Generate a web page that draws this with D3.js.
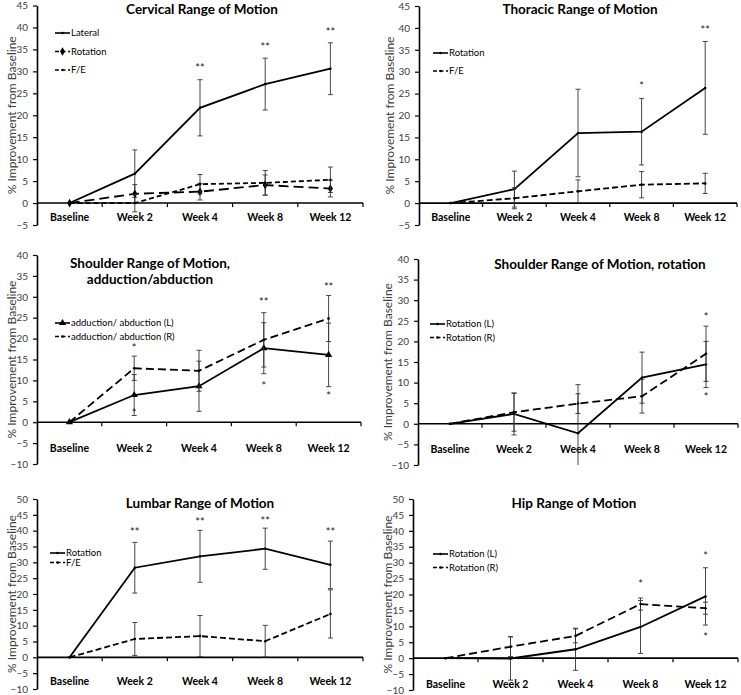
<!DOCTYPE html>
<html>
<head>
<meta charset="utf-8">
<script src="https://cdnjs.cloudflare.com/ajax/libs/d3/7.8.5/d3.min.js"></script>
<style>
	body { margin: 0; background: #fff; }
	svg { display: block; font-family: Lato, "Open Sans", sans-serif; }
</style>
</head>
<body>
<svg id="chart" width="741" height="695"></svg>
<script>
	var categories = ['Baseline', 'Week 2', 'Week 4', 'Week 8', 'Week 12'];

	// Cervical
	var cervLateral = [0, 6.7, 21.7, 27.1, 30.6],
		cervLateralErr = [0, 5.4, 6.4, 5.9, 5.9],
		cervRotation = [0, 2.1, 2.6, 4.1, 3.3],
		cervRotationErr = [0, 2.1, 1.9, 2.3, 1.9],
		cervFE = [0, 0, 4.3, 4.6, 5.3],
		cervFEErr = [0, 2.0, 2.2, 2.8, 2.9],
		cervStars = ['', '', '**', '**', '**'],
		cervStarsAt = [null, null, 31.0, 35.9, 39.3];

	// Thoracic
	var thorRotation = [0, 3.2, 16.0, 16.3, 26.3],
		thorRotationErr = [0, 4.1, 10.0, 7.6, 10.6],
		thorFE = [0, 1.1, 2.7, 4.2, 4.5],
		thorFEErr = [0, 2.4, 2.6, 3.0, 2.3],
		thorStars = ['', '', '', '*', '**'],
		thorStarsAt = [null, null, null, 27.1, 39.8];

	// Shoulder adduction / abduction
	var shAbdL = [0, 6.5, 8.6, 17.7, 16.1],
		shAbdLErr = [0, 4.9, 6.0, 6.1, 7.6],
		shAbdR = [0, 12.9, 12.3, 19.7, 24.8],
		shAbdRErr = [0, 2.9, 4.9, 6.5, 5.5],
		shAbdStarsR = ['', '*', '', '**', '**'],
		shAbdStarsRAt = [null, 18.2, null, 29.1, 32.6],
		shAbdStarsL = ['', '*', '', '*', '*'],
		shAbdStarsLAt = [null, 2.5, null, 8.9, 6.6];

	// Shoulder rotation
	var shRotL = [0, 2.4, -2.3, 11.2, 14.4],
		shRotLErr = [0, 5.1, 11.8, 6.2, 5.6],
		shRotR = [0, 2.8, 4.9, 6.7, 17.0],
		shRotRErr = [0, 4.6, 2.4, 4.1, 6.7],
		shRotStarsR = ['', '', '', '', '*'],
		shRotStarsRAt = [null, null, null, null, 26.3],
		shRotStarsL = ['', '', '', '', '*'],
		shRotStarsLAt = [null, null, null, null, 6.8];

	// Lumbar
	var lumRotation = [0, 28.3, 31.9, 34.3, 29.2],
		lumRotationErr = [0, 8.0, 8.2, 6.5, 7.5],
		lumFE = [0, 5.8, 6.7, 5.1, 13.7],
		lumFEErr = [0, 5.2, 6.5, 5.0, 7.6],
		lumStars = ['', '**', '**', '**', '**'],
		lumStarsAt = [null, 39.9, 43.2, 43.6, 39.9];

	// Hip
	var hipL = [0, -0.1, 2.8, 9.8, 19.4],
		hipLErr = [0, 6.8, 6.6, 8.3, 9.0],
		hipR = [0, 3.6, 7.0, 17.0, 15.7],
		hipRErr = [0, 3.1, 2.2, 1.9, 1.9],
		hipStarsR = ['', '', '', '*', '*'],
		hipStarsRAt = [null, null, null, 23.8, 32.6],
		hipStarsL = ['', '', '', '', '*'],
		hipStarsLAt = [null, null, null, null, 7.0];

	var yTicks45 = [-5, 0, 5, 10, 15, 20, 25, 30, 35, 40, 45],
		yTicks40 = [-10, -5, 0, 5, 10, 15, 20, 25, 30, 35, 40],
		yTicks50 = [-10, -5, 0, 5, 10, 15, 20, 25, 30, 35, 40, 45, 50];

	var panels = [
		{
			title: ['Cervical Range of Motion'], titleX: 202, titleY: 14,
			x0: 37, x1: 363, yTop: 5.5, yBot: 225, ticks: yTicks45, catY: 221, labelX: 12,
			legend: {x: 55, y: 33, dy: 18.5},
			series: [
				{name: 'Lateral', v: cervLateral, e: cervLateralErr, dash: null, marker: 'small'},
				{name: 'Rotation', v: cervRotation, e: cervRotationErr, dash: '10,5', marker: 'diamond'},
				{name: 'F/E', v: cervFE, e: cervFEErr, dash: '5,3', marker: 'small'}
			],
			stars: [[cervStars, cervStarsAt]]
		},
		{
			title: ['Thoracic Range of Motion'], titleX: 580, titleY: 14,
			x0: 419, x1: 737, yTop: 6, yBot: 225, ticks: yTicks45, catY: 221, labelX: 390,
			legend: {x: 433, y: 53, dy: 18},
			series: [
				{name: 'Rotation', v: thorRotation, e: thorRotationErr, dash: null, marker: 'small'},
				{name: 'F/E', v: thorFE, e: thorFEErr, dash: '6,3', marker: 'small'}
			],
			stars: [[thorStars, thorStarsAt]]
		},
		{
			title: ['Shoulder Range of Motion,', 'adduction/abduction'], titleX: 150, titleY: 268,
			x0: 37, x1: 361, yTop: 255, yBot: 464, ticks: yTicks40, catY: 452, labelX: 12,
			legend: {x: 55, y: 323, dy: 13.5},
			series: [
				{name: 'adduction/ abduction (L)', v: shAbdL, e: shAbdLErr, dash: null, marker: 'triangle'},
				{name: 'adduction/ abduction (R)', v: shAbdR, e: shAbdRErr, dash: '8,4', marker: 'small'}
			],
			stars: [[shAbdStarsR, shAbdStarsRAt], [shAbdStarsL, shAbdStarsLAt]]
		},
		{
			title: ['Shoulder Range of Motion, rotation'], titleX: 600, titleY: 269,
			x0: 418, x1: 738, yTop: 259, yBot: 465, ticks: yTicks40, catY: 453, labelX: 388,
			legend: {x: 430, y: 324, dy: 13.5},
			series: [
				{name: 'Rotation (L)', v: shRotL, e: shRotLErr, dash: null, marker: 'small'},
				{name: 'Rotation (R)', v: shRotR, e: shRotRErr, dash: '8,4', marker: 'small'}
			],
			stars: [[shRotStarsR, shRotStarsRAt], [shRotStarsL, shRotStarsLAt]]
		},
		{
			title: ['Lumbar Range of Motion'], titleX: 200, titleY: 508,
			x0: 37, x1: 363, yTop: 499, yBot: 689, ticks: yTicks50, catY: 685, labelX: 12,
			legend: {x: 50, y: 553, dy: 9.5},
			series: [
				{name: 'Rotation', v: lumRotation, e: lumRotationErr, dash: null, marker: 'small'},
				{name: 'F/E', v: lumFE, e: lumFEErr, dash: '6,3', marker: 'small'}
			],
			stars: [[lumStars, lumStarsAt]]
		},
		{
			title: ['Hip Range of Motion'], titleX: 574, titleY: 508,
			x0: 413, x1: 738, yTop: 499, yBot: 690, ticks: yTicks50, catY: 688, labelX: 388,
			legend: {x: 433, y: 554, dy: 13.5},
			series: [
				{name: 'Rotation (L)', v: hipL, e: hipLErr, dash: null, marker: 'small'},
				{name: 'Rotation (R)', v: hipR, e: hipRErr, dash: '8,4', marker: 'small'}
			],
			stars: [[hipStarsR, hipStarsRAt], [hipStarsL, hipStarsLAt]]
		}
	];

	var svg = d3.select('#chart');

	var markerPath = function (type) {
		if (type === 'diamond') {
			return d3.symbol().type(d3.symbolDiamond).size(22)();
		}
		if (type === 'triangle') {
			return d3.symbol().type(d3.symbolTriangle).size(22)();
		}
		return d3.symbol().type(d3.symbolCircle).size(5)();
	};

	panels.forEach(function (p) {
		var g = svg.append('g');
		var ticks = p.ticks,
			yMin = d3.min(ticks),
			yMax = d3.max(ticks);

		var x = d3.scaleBand().domain(categories).range([p.x0, p.x1]).padding(0),
			y = d3.scaleLinear().domain([yMin, yMax]).range([p.yBot, p.yTop]),
			cx = function (c) {return x(c) + x.bandwidth() / 2;},
			clampY = function (v) {return y(Math.max(yMin, Math.min(yMax, v)));};

		// y axis
		var yAxis = g.append('g')
			.attr('transform', 'translate(' + p.x0 + ',0)')
			.call(d3.axisLeft(y).tickValues(ticks).tickSize(4).tickSizeOuter(0).tickPadding(5));
		yAxis.select('.domain').attr('stroke', '#000').attr('stroke-width', 1.6);
		yAxis.selectAll('.tick line').attr('stroke', '#000').attr('stroke-width', 1.2);
		yAxis.selectAll('.tick text')
			.attr('fill', '#404040')
			.style('font-size', '10px')
			.style('font-family', 'Lato, sans-serif');

		// x axis at zero
		var xAxis = g.append('g')
			.attr('transform', 'translate(0,' + y(0) + ')');
		xAxis.append('line')
			.attr('x1', p.x0).attr('x2', p.x1)
			.attr('stroke', '#000').attr('stroke-width', 1.6);
		xAxis.selectAll('.xt')
			.data(categories).enter()
			.append('line')
				.attr('x1', function (c) {return x(c) + x.bandwidth();})
				.attr('x2', function (c) {return x(c) + x.bandwidth();})
				.attr('y1', 0).attr('y2', 4)
				.attr('stroke', '#000').attr('stroke-width', 1.2);

		g.selectAll('.cat')
			.data(categories).enter()
			.append('text')
				.attr('x', cx)
				.attr('y', p.catY)
				.attr('text-anchor', 'middle')
				.style('font-size', '10.5px')
				.style('font-weight', 'bold')
				.attr('fill', '#000')
				.text(function (c) {return c;});

		// y label
		g.append('text')
			.attr('transform', 'translate(' + p.labelX + ',' + ((p.yTop + p.yBot) / 2) + ') rotate(-90)')
			.attr('text-anchor', 'middle')
			.attr('dy', '0.35em')
			.style('font-size', '12px')
			.attr('fill', '#404040')
			.text('% Improvement from Baseline');

		// title
		g.selectAll('.title')
			.data(p.title).enter()
			.append('text')
				.attr('x', p.titleX)
				.attr('y', function (d, i) {return p.titleY + i * 15.5;})
				.attr('text-anchor', 'middle')
				.style('font-size', '13.5px')
				.style('font-weight', 'bold')
				.attr('fill', '#000')
				.text(function (d) {return d;});

		// series
		p.series.forEach(function (s) {
			var pts = categories.map(function (c, i) {
				return {c: c, v: s.v[i], e: s.e[i]};
			});

			var bars = g.append('g').selectAll('g')
				.data(pts.filter(function (d) {return d.e > 0;})).enter()
				.append('g')
					.attr('stroke', '#333')
					.attr('stroke-width', 0.9);
			bars.append('line')
				.attr('x1', function (d) {return cx(d.c);})
				.attr('x2', function (d) {return cx(d.c);})
				.attr('y1', function (d) {return clampY(d.v + d.e);})
				.attr('y2', function (d) {return clampY(d.v - d.e);});
			bars.append('line')
				.attr('x1', function (d) {return cx(d.c) - 2.5;})
				.attr('x2', function (d) {return cx(d.c) + 2.5;})
				.attr('y1', function (d) {return clampY(d.v + d.e);})
				.attr('y2', function (d) {return clampY(d.v + d.e);});
			bars.filter(function (d) {return d.v - d.e >= yMin;})
				.append('line')
				.attr('x1', function (d) {return cx(d.c) - 2.5;})
				.attr('x2', function (d) {return cx(d.c) + 2.5;})
				.attr('y1', function (d) {return y(d.v - d.e);})
				.attr('y2', function (d) {return y(d.v - d.e);});

			g.append('path')
				.datum(pts)
				.attr('fill', 'none')
				.attr('stroke', '#000')
				.attr('stroke-width', 1.8)
				.attr('stroke-dasharray', s.dash)
				.attr('d', d3.line()
					.x(function (d) {return cx(d.c);})
					.y(function (d) {return y(d.v);}));

			g.append('g').selectAll('path')
				.data(pts).enter()
				.append('path')
					.attr('transform', function (d) {return 'translate(' + cx(d.c) + ',' + y(d.v) + ')';})
					.attr('d', markerPath(s.marker))
					.attr('fill', '#000');
		});

		// significance stars
		p.stars.forEach(function (st) {
			var labels = st[0], at = st[1];
			g.append('g').selectAll('text')
				.data(categories.filter(function (c, i) {return labels[i];})).enter()
				.append('text')
					.attr('x', function (c) {return cx(c);})
					.attr('y', function (c) {return y(at[categories.indexOf(c)]) + 5.5;})
					.attr('text-anchor', 'middle')
					.style('font-size', '11px')
					.attr('fill', '#222')
					.text(function (c) {return labels[categories.indexOf(c)];});
		});

		// legend
		var leg = g.append('g').selectAll('g')
			.data(p.series).enter()
			.append('g')
				.attr('transform', function (d, i) {
					return 'translate(' + p.legend.x + ',' + (p.legend.y + i * p.legend.dy) + ')';
				});
		leg.append('line')
			.attr('x1', 0).attr('x2', 15)
			.attr('stroke', '#000')
			.attr('stroke-width', 1.6)
			.attr('stroke-dasharray', function (d) {return d.dash ? '4,2.5' : null;});
		leg.append('path')
			.attr('transform', 'translate(7.5,0)')
			.attr('d', function (d) {return markerPath(d.marker);})
			.attr('fill', '#000');
		leg.append('text')
			.attr('x', 16)
			.attr('dy', '0.35em')
			.style('font-size', '9.5px')
			.attr('fill', '#000')
			.text(function (d) {return d.name;});
	});
</script>
</body>
</html>
